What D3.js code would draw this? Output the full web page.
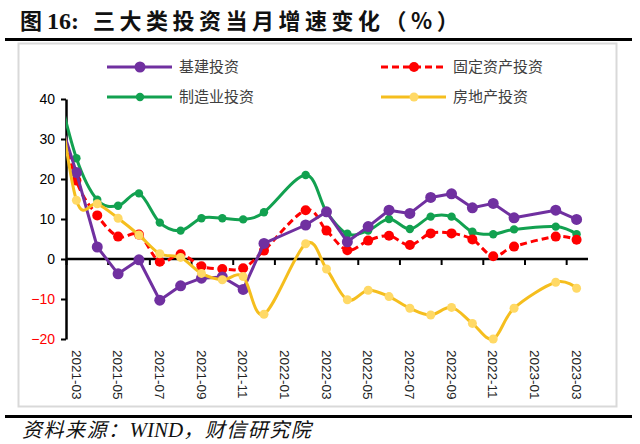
<!DOCTYPE html>
<html><head><meta charset="utf-8">
<script src="https://cdn.jsdelivr.net/npm/d3@7/dist/d3.min.js"></script>
<style>
html,body{margin:0;padding:0;background:#fff;}
svg{display:block;}
</style></head>
<body>
<svg id="c" width="640" height="444"></svg>
<script>
// months: first entry (2021-02, Jan-Feb) lies left of the visible axis and is clipped
const months = ["2021-02","2021-03","2021-04","2021-05","2021-06","2021-07","2021-08","2021-09","2021-10","2021-11","2021-12",
  "2022-01","2022-02","2022-03","2022-04","2022-05","2022-06","2022-07","2022-08","2022-09","2022-10","2022-11","2022-12",
  "2023-01","2023-02","2023-03"];
const infra = [38, 21.6, 3.0, -3.7, -0.2, -10.3, -6.7, -4.8, -4.5, -7.6, 3.9,
  null, 8.5, 11.8, 4.3, 8.1, 12.2, 11.4, 15.4, 16.3, 12.8, 13.9, 10.3,
  null, 12.2, 9.9];
const fai = [40, 19.6, 10.9, 5.6, 6.1, -0.7, 1.2, -1.8, -2.5, -2.3, 2.1,
  null, 12.2, 7.1, 2.2, 4.6, 5.8, 3.5, 6.4, 6.4, 4.9, 0.7, 3.1,
  null, 5.6, 4.8];
const manuf = [45, 25.2, 14.8, 13.3, 16.4, 9.1, 7.1, 10.2, 10.2, 9.9, 11.7,
  null, 21.0, 11.8, 6.3, 7.1, 10.0, 7.5, 10.6, 10.6, 6.8, 6.2, 7.4,
  null, 8.1, 6.2];
const realty = [47, 14.7, 13.8, 10.2, 6.0, 1.3, 0.4, -3.6, -5.2, -4.4, -13.8,
  null, 3.8, -2.5, -10.2, -7.8, -9.4, -12.3, -14.0, -12.1, -16.1, -20.0, -12.3,
  null, -5.8, -7.3];
const yTicks = [-20, -10, 0, 10, 20, 30, 40];
const axisMonths = months.slice(1);
const xLabels = axisMonths.filter((m, i) => i % 2 === 0);

const svg = d3.select("#c");
svg.append("rect").attr("width", 640).attr("height", 444).attr("fill", "#fff");

// Title
const title = svg.append("text").attr("x", 20).attr("y", 29)
  .attr("font-size", 22).attr("font-weight", "bold").attr("fill", "#111");
title.append("tspan").attr("font-family", "Noto Sans CJK SC").text("图 ");
title.append("tspan").attr("font-family", "Liberation Serif").attr("font-size", 24).text("16:");
title.append("tspan").attr("font-family", "Noto Sans CJK SC").attr("dx", 14)
  .attr("letter-spacing", 4.5).text("三大类投资当月增速变化（%）");

svg.append("rect").attr("x", 5).attr("y", 38).attr("width", 627).attr("height", 3).attr("fill", "#000");
svg.append("rect").attr("x", 5).attr("y", 415).attr("width", 627).attr("height", 3).attr("fill", "#000");

// source
const src = svg.append("text").attr("x", 22).attr("y", 437).attr("font-size", 20)
  .attr("font-style", "italic").attr("fill", "#111");
src.append("tspan").attr("font-family", "Noto Sans CJK SC").attr("letter-spacing", 1.5).text("资料来源：");
src.append("tspan").attr("font-family", "Liberation Serif").attr("font-size", 21).text("WIND");
src.append("tspan").attr("font-family", "Noto Sans CJK SC").attr("letter-spacing", 1.5).text("，财信研究院");

// chart frame
svg.append("rect").attr("x", 18.5).attr("y", 43.5).attr("width", 598).attr("height", 363)
  .attr("fill", "none").attr("stroke", "#d9d9d9").attr("stroke-width", 2);

const L = 66, R = 587, T = 99, B = 339;
const x = d3.scaleBand().domain(axisMonths).range([L, R]);
const bw = x.bandwidth();
const xi = d3.scaleLinear().domain([-0.5, axisMonths.length - 0.5]).range([L, R]);
const px = m => m === months[0] ? x(axisMonths[0]) - bw / 2 : x(m) + bw / 2;
const y = d3.scaleLinear().domain([-20, 40]).range([B, T]);

// y axis
const ya = svg.append("g").attr("transform", `translate(${L},0)`)
  .call(d3.axisLeft(y).tickValues(yTicks).tickSize(5).tickSizeOuter(0).tickPadding(6));
ya.select(".domain").attr("stroke", "#000").attr("stroke-width", 2.5);
ya.selectAll(".tick line").attr("stroke", "#000").attr("stroke-width", 2);
ya.selectAll(".tick text").attr("font-family", "Liberation Sans, Arial").attr("font-size", 14)
  .attr("fill", d => d < 0 ? "#FF0000" : "#000");

// x labels (low position)
const xl = svg.append("g").attr("transform", `translate(0,${B})`)
  .call(d3.axisBottom(x).tickValues(xLabels).tickSize(0));
xl.select(".domain").remove();
xl.selectAll(".tick text").attr("font-family", "Liberation Sans, Arial").attr("font-size", 13.5)
  .attr("fill", "#222").attr("transform", "rotate(90)").attr("text-anchor", "start")
  .attr("x", 11).attr("y", 0).attr("dy", "0.35em");

// zero line with tick marks at category boundaries
const bounds = d3.range(-0.5, axisMonths.length, 2);
const xa = svg.append("g").attr("transform", `translate(0,${y(0)})`)
  .call(d3.axisBottom(xi).tickValues(bounds).tickSize(6).tickSizeOuter(0).tickFormat(""));
xa.select(".domain").attr("stroke", "#000").attr("stroke-width", 2.5).attr("d", `M${L},0H${R + 1}`);
xa.selectAll(".tick line").attr("stroke", "#000").attr("stroke-width", 2);

// clip
svg.append("clipPath").attr("id", "clip").append("rect")
  .attr("x", L).attr("y", 50).attr("width", R - L + 10).attr("height", 300);

const series = [
  {name: "制造业投资", data: manuf, color: "#12A150", mk: "#12A150", r: 4.2, w: 3, dash: null, curve: d3.curveCardinal.tension(0)},
  {name: "固定资产投资", data: fai, color: "#FF0000", mk: "#FF0000", r: 5, w: 3, dash: "7,4", curve: d3.curveCardinal.tension(0)},
  {name: "基建投资", data: infra, color: "#7030A0", mk: "#7030A0", r: 5.5, w: 3, dash: null, curve: d3.curveLinear},
  {name: "房地产投资", data: realty, color: "#F5BE1E", mk: "#FFD966", r: 4.5, w: 3, dash: null, curve: d3.curveCardinal.tension(0)}
];

const plot = svg.append("g").attr("clip-path", "url(#clip)");
series.forEach(s => {
  const pts = months.map((m, i) => ({m, v: s.data[i]})).filter(d => d.v !== null);
  const line = d3.line().x(d => px(d.m)).y(d => y(d.v)).curve(s.curve);
  const g = plot.append("g");
  g.append("path").attr("d", line(pts)).attr("fill", "none").attr("stroke", s.color)
    .attr("stroke-width", s.w).attr("stroke-dasharray", s.dash).attr("stroke-linejoin", "round");
  g.selectAll("circle").data(pts.slice(1)).join("circle")
    .attr("cx", d => px(d.m)).attr("cy", d => y(d.v)).attr("r", s.r).attr("fill", s.mk);
});

// legend
const legend = [
  {s: series[2], lx: 107, ly: 67},
  {s: series[1], lx: 381, ly: 67},
  {s: series[0], lx: 107, ly: 97},
  {s: series[3], lx: 381, ly: 97}
];
legend.forEach(o => {
  const g = svg.append("g");
  g.append("line").attr("x1", o.lx).attr("x2", o.lx + 65).attr("y1", o.ly).attr("y2", o.ly)
    .attr("stroke", o.s.color).attr("stroke-width", 3).attr("stroke-dasharray", o.s.dash);
  g.append("circle").attr("cx", o.lx + 33).attr("cy", o.ly).attr("r", o.s.r).attr("fill", o.s.mk);
  g.append("text").attr("x", o.lx + 72).attr("y", o.ly).attr("dy", "0.35em")
    .attr("font-family", "Noto Sans CJK SC").attr("font-size", 15).attr("fill", "#404040").text(o.s.name);
});
</script>
</body></html>
